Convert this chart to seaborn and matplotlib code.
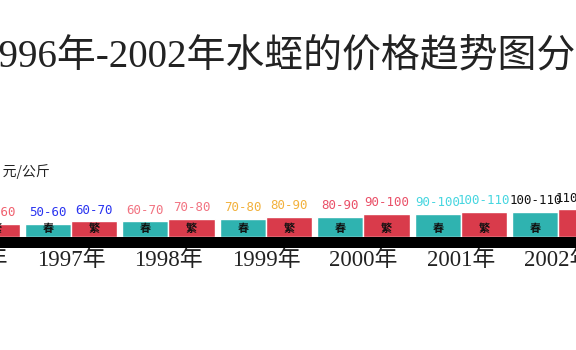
import numpy as np
import pandas as pd
import seaborn as sns
import matplotlib.pyplot as plt

# ---- data ----
years = ['1996', '1997', '1998', '1999', '2000', '2001', '2002']
season_names = ['春', '繁']
spring_labels = ['40-50', '50-60', '60-70', '70-80', '80-90', '90-100', '100-110']
breed_labels = ['50-60', '60-70', '70-80', '80-90', '90-100', '100-110', '110-120']
spring_values = [45, 55, 65, 75, 85, 95, 105]
breed_values = [55, 65, 75, 85, 95, 105, 115]
label_colors = ['#f0606e', '#2a34f0', '#f27482', '#f2b13c', '#ea5068', '#46d6e0', '#111111']
bar_colors = ['#2fb3b0', '#d93b4b']
title_text = '1996年-2002年水蛭的价格趋势图分析'
unit_text = '单位：元/公斤'

sns.set_style('white')
plt.rcParams['font.family'] = ['Noto Sans CJK SC', 'DejaVu Sans']

df = pd.DataFrame({
    'year': years * 2,
    'season': [season_names[0]] * len(years) + [season_names[1]] * len(years),
    'value': spring_values + breed_values,
})
labels_by_season = [spring_labels, breed_labels]

W, H = 576, 350
fig = plt.figure(figsize=(W / 100, H / 100), dpi=100)
fig.patch.set_facecolor('white')

ax_left, ax_width = -75.25, 682.5
ax_bottom_px, ax_height_px = 241.5, 120.0
ax = fig.add_axes([ax_left / W, 1 - ax_bottom_px / H, ax_width / W, ax_height_px / H])

sns.barplot(data=df, x='year', y='value', hue='season', order=years,
            hue_order=season_names, palette=dict(zip(season_names, bar_colors)),
            width=0.95, gap=0, saturation=1, errorbar=None, legend=False, ax=ax)

scale = 0.24  # px per unit
ax.set_xlim(-0.5, len(years) - 0.5)
ax.set_ylim(-4.5 / scale, -4.5 / scale + ax_height_px / scale)
ax.set_facecolor('none')
for s in ['top', 'left', 'right']:
    ax.spines[s].set_visible(False)
ax.spines['bottom'].set_linewidth(11 * 0.72)
ax.spines['bottom'].set_color('black')
ax.set_yticks([])
ax.set_xlabel('')
ax.set_ylabel('')
ax.set_xticks(range(len(years)))
ax.set_xticklabels([y + '年' for y in years], fontsize=16.5,
                   family=['Liberation Serif', 'Noto Sans CJK SC'], color='#222222')
ax.tick_params(axis='x', length=0, pad=5.5)

for container, season, labs in zip(ax.containers, season_names, labels_by_season):
    for i, bar in enumerate(container):
        x = bar.get_x() + bar.get_width() / 2
        h = bar.get_height()
        ax.annotate(labs[i], (x, h), xytext=(0, 3.5), textcoords='offset points',
                    ha='center', va='bottom', color=label_colors[i],
                    fontsize=9, family=['DejaVu Sans Mono'])
        ax.annotate(season, (x, 0), xytext=(0, 6), textcoords='offset points',
                    ha='center', va='center', color='#111111', fontsize=8,
                    fontweight='bold', family=['Noto Sans CJK SC'])

fig.text(-20 / W, 1 - 57 / H, title_text, ha='left', va='center', fontsize=28,
         family=['Liberation Serif', 'Noto Sans CJK SC'], color='#222222')
fig.text(50 / W, 1 - 172 / H, unit_text, ha='right', va='center', fontsize=10,
         family=['Noto Sans CJK SC', 'DejaVu Sans'], color='#222222')

fig.savefig('out.png', dpi=100, facecolor='white')
